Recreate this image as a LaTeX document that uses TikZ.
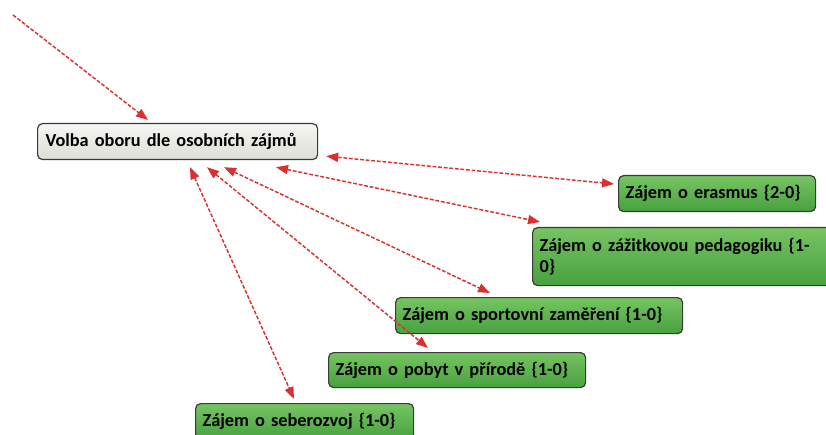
\documentclass[tikz,border=0pt]{standalone}
\usepackage{fontspec}
\setmainfont{Carlito}
\usetikzlibrary{arrows.meta,calc}
\definecolor{linkred}{RGB}{218,48,48}
\definecolor{boxline}{RGB}{55,60,55}
\definecolor{greentop}{RGB}{118,196,98}
\definecolor{greenbot}{RGB}{72,160,62}
\definecolor{greytop}{RGB}{246,246,242}
\definecolor{greybot}{RGB}{222,222,216}
\tikzset{
  box/.style={draw=boxline, line width=1.2pt, rounded corners=5pt, anchor=north west,
    inner xsep=7pt, inner ysep=0pt, align=left,
    font=\fontsize{18.3}{21}\selectfont\bfseries},
  mainbox/.style={box, top color=greytop, bottom color=greybot},
  greenbox/.style={box, top color=greentop, bottom color=greenbot},
  link/.style={draw=linkred, line width=1.45pt, dash pattern=on 3.8pt off 1.8pt,
    {Triangle[length=12pt,width=9pt]}-{Triangle[length=12pt,width=9pt]}},
  inlink/.style={draw=linkred, line width=1.45pt, dash pattern=on 3.8pt off 1.8pt,
    -{Triangle[length=12pt,width=9pt]}}
}
\begin{document}
\begin{tikzpicture}[x=1pt,y=-1pt]
\useasboundingbox (0,0) rectangle (826,435);
\clip (0,0) rectangle (826,435);
\fill[white] (0,0) rectangle (826,435);

% central topic
\node[mainbox, minimum width=280pt, minimum height=36pt, text width=264pt] (main) at (37,123)
  {Volba oboru dle osobních zájmů};

% interests
\node[greenbox, minimum width=197pt, minimum height=36pt, text width=183pt] (eras) at (618,175)
  {Zájem o erasmus \{2-0\}};
\node[greenbox, minimum width=370pt, minimum height=58pt, text width=356pt] (ped) at (532,227)
  {Zájem o zážitkovou pedagogiku \{1-\\0\}};
\node[greenbox, minimum width=287pt, minimum height=36pt, text width=273pt] (sport) at (395,297)
  {Zájem o sportovní zaměření \{1-0\}};
\node[greenbox, minimum width=257pt, minimum height=35pt, text width=243pt] (pobyt) at (328,352)
  {Zájem o pobyt v přírodě \{1-0\}};
\node[greenbox, minimum width=218pt, minimum height=36pt, text width=204pt] (sebe) at (195,403)
  {Zájem o seberozvoj \{1-0\}};

% incoming link from outside
\coordinate (src) at (13,15);
\draw[inlink] (src) -- ($(main.north west)+(111,-3)$);

% links between the topic and the interests
\draw[link] ($(main.south east)+(8,-4)$) -- ($(eras.north west)+(-4,9)$);
\draw[link] ($(main.south west)+(239,7)$) -- ($(ped.north west)+(8,-5)$);
\draw[link] ($(main.south west)+(187,7)$) -- ($(sport.north west)+(95,-4)$);
\draw[link] ($(main.south west)+(170,7)$) -- ($(pobyt.north west)+(100,-4)$);
\draw[link] ($(main.south west)+(153,7)$) -- ($(sebe.north west)+(99,-4)$);
\end{tikzpicture}
\end{document}
